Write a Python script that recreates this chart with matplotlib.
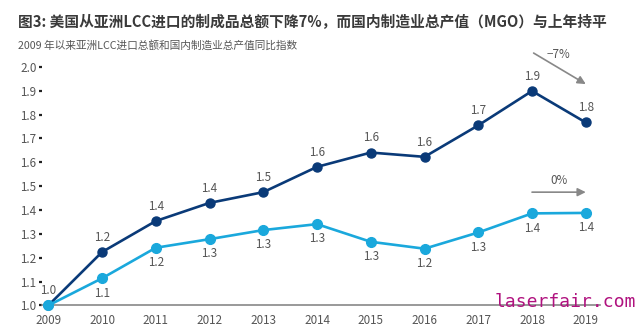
import matplotlib
matplotlib.use("Agg")
import matplotlib.pyplot as plt

plt.rcParams['font.family'] = ['Noto Sans CJK SC', 'DejaVu Sans']

years = [2009, 2010, 2011, 2012, 2013, 2014, 2015, 2016, 2017, 2018, 2019]
# LCC imports index (dark) and MGO index (light)
lcc_imports = [1.00, 1.224, 1.354, 1.430, 1.475, 1.581, 1.641, 1.623, 1.755, 1.899, 1.767]
mgo = [1.00, 1.114, 1.242, 1.278, 1.316, 1.341, 1.267, 1.238, 1.306, 1.386, 1.388]
lcc_labels = ["1.0", "1.2", "1.4", "1.4", "1.5", "1.6", "1.6", "1.6", "1.7", "1.9", "1.8"]
mgo_labels = ["", "1.1", "1.2", "1.3", "1.3", "1.3", "1.3", "1.2", "1.3", "1.4", "1.4"]
y_ticks = [1.0, 1.1, 1.2, 1.3, 1.4, 1.5, 1.6, 1.7, 1.8, 1.9, 2.0]

dark = "#0a3a78"
light = "#1aa8dc"
grey = "#555555"
fs = 8.4

fig = plt.figure(figsize=(6.4, 3.36), dpi=100)
ax = fig.add_axes([0.0656, 0.0908, 0.872, 0.730])

ax.plot(years, lcc_imports, color=dark, lw=1.9, marker="o", ms=6.5, zorder=3, clip_on=False)
ax.plot(years, mgo, color=light, lw=1.9, marker="o", ms=7, zorder=4, clip_on=False)

for x, y, s in zip(years, lcc_imports, lcc_labels):
    ax.annotate(s, (x, y), xytext=(0, 6), textcoords="offset points",
                ha="center", va="bottom", fontsize=fs, color=grey)
for x, y, s in zip(years, mgo, mgo_labels):
    ax.annotate(s, (x, y), xytext=(0, -6), textcoords="offset points",
                ha="center", va="top", fontsize=fs, color=grey)

# change arrows
ax.annotate("", xy=(2019.0, 1.928), xytext=(2018.03, 2.058),
            arrowprops=dict(arrowstyle="-|>", color="#888888", lw=1.2,
                            mutation_scale=12, shrinkA=0, shrinkB=0),
            annotation_clip=False)
ax.text(2018.5, 2.05, "\u22127%", ha="center", va="center", fontsize=fs, color=grey)
ax.annotate("", xy=(2019.0, 1.475), xytext=(2018.0, 1.475),
            arrowprops=dict(arrowstyle="-|>", color="#888888", lw=1.2,
                            mutation_scale=12, shrinkA=0, shrinkB=0))
ax.text(2018.5, 1.525, "0%", ha="center", va="center", fontsize=fs, color=grey)

ax.set_xlim(2008.883, 2019.266)
ax.set_ylim(1.0, 2.028)
ax.set_xticks(years)
ax.set_xticklabels([str(y) for y in years])
ax.set_yticks(y_ticks)
ax.set_yticklabels(["%.1f" % v for v in y_ticks])
ax.tick_params(axis="x", length=0, pad=6, labelsize=fs, labelcolor=grey)
ax.tick_params(axis="y", length=2, width=1.6, pad=2, labelsize=fs, labelcolor=grey, color="#222222")

for side in ["top", "right", "left"]:
    ax.spines[side].set_visible(False)
ax.spines["bottom"].set_color("#888888")
ax.spines["bottom"].set_linewidth(1.2)

fig.text(0.028, 0.935, "图3: 美国从亚洲LCC进口的制成品总额下降7%，而国内制造业总产值（MGO）与上年持平",
         fontsize=10.6, fontweight="bold", color="#3a3a3a", va="center", ha="left")
fig.text(0.028, 0.866, "2009 年以来亚洲LCC进口总额和国内制造业总产值同比指数",
         fontsize=7.7, color=grey, va="center", ha="left")

fig.text(0.993, 0.10, "laserfair.com", fontsize=13, color="#b0127f",
         family="DejaVu Sans Mono", ha="right", va="center")

fig.savefig("out.png", dpi=100)
